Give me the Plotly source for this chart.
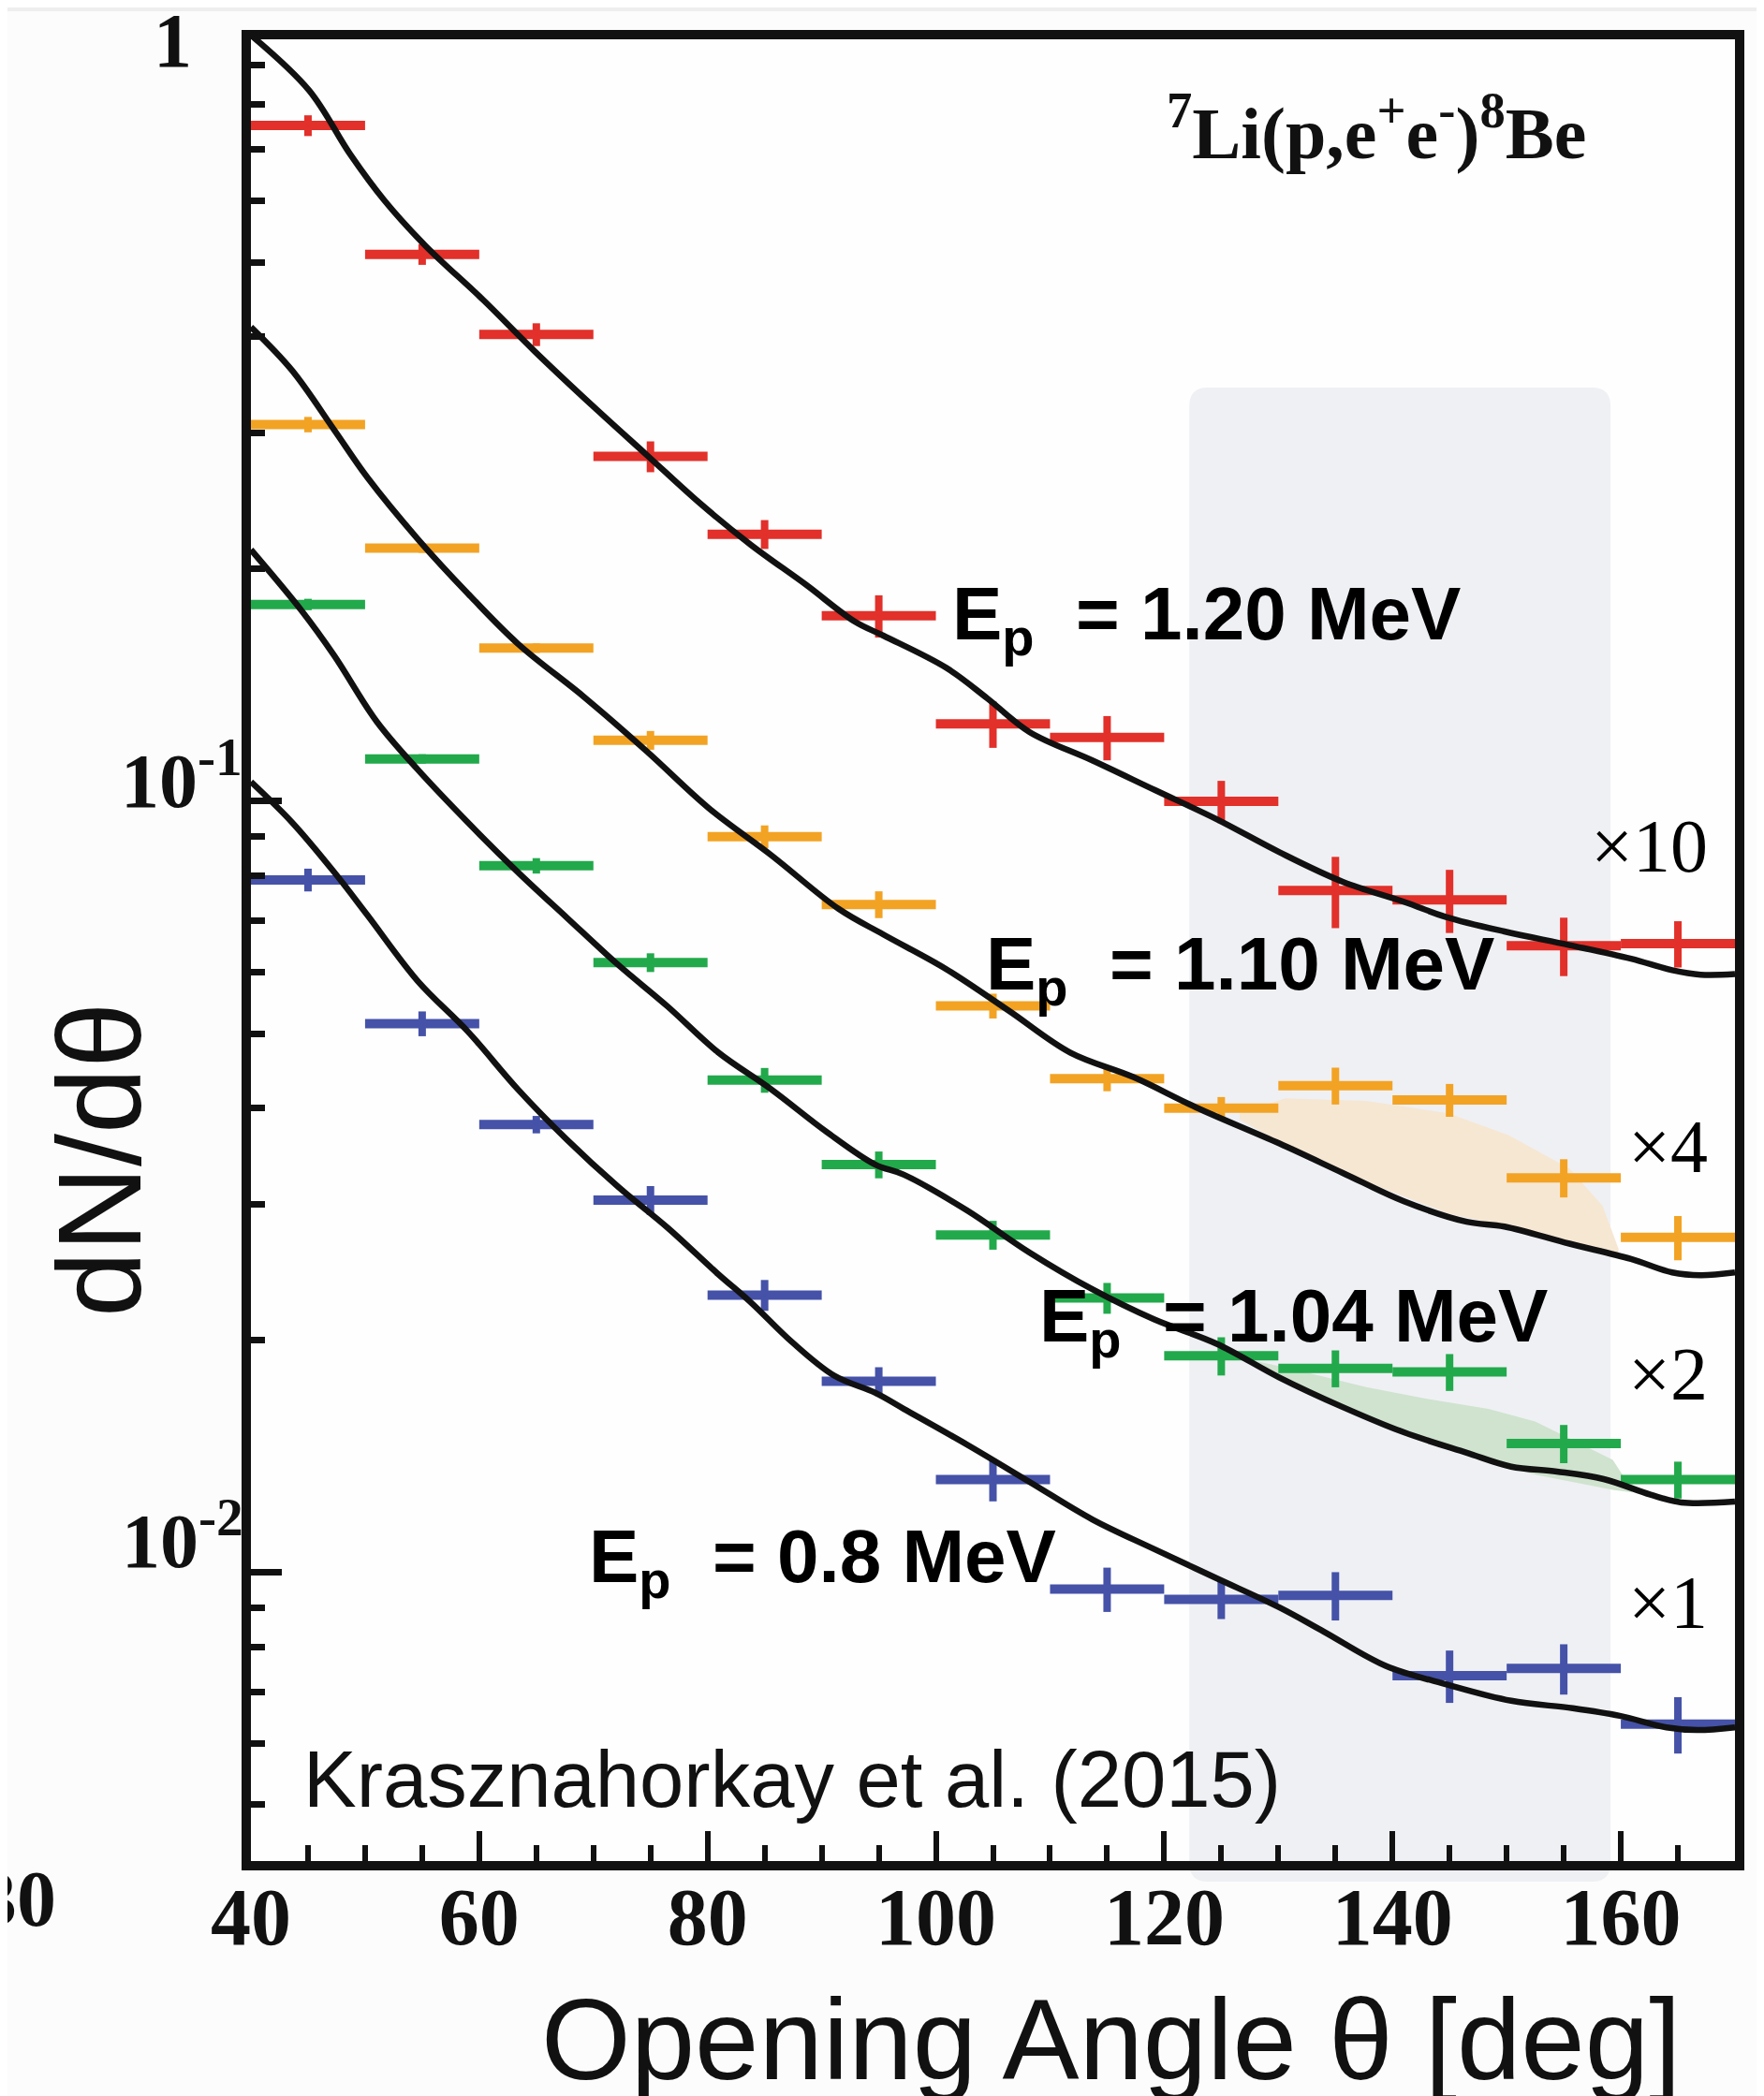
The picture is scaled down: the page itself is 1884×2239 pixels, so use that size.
import plotly.graph_objects as go

# ---------------- data ----------------
theta_bins = [45, 55, 65, 75, 85, 95, 105, 115, 125, 135, 145, 155, 165]
bin_half_width = 5.0

# measured dN/dtheta (already multiplied by the scale factor shown on the right)
ep120_x10 = [0.752, 0.512, 0.403, 0.280, 0.222, 0.174, 0.126, 0.121, 0.100, 0.0766, 0.0745, 0.0650, 0.0654]
ep110_x4 = [0.308, 0.213, 0.158, 0.120, 0.0900, 0.0735, 0.0543, 0.0437, 0.0400, 0.0428, 0.0410, 0.0325, 0.0272]
ep104_x2 = [0.180, 0.1135, 0.0825, 0.0618, 0.0435, 0.0338, 0.0274, 0.0227, 0.0191, 0.0184, 0.0182, 0.0147, 0.0132]
ep080_x1 = [0.0791, 0.0515, 0.0381, 0.0304, 0.0229, 0.0177, 0.0132, 0.00952, 0.00923, 0.00934, 0.00735, 0.00751, 0.00636]

# relative errors (percent)
ep120_err_pct = [3.1, 3.1, 3.4, 4.6, 4.3, 6.3, 6.9, 6.6, 6.3, 10.6, 9.4, 8.7, 6.9]
ep110_err_pct = [2.3, 1.4, 1.4, 2.8, 3.4, 4.0, 3.7, 3.7, 3.4, 5.5, 4.9, 5.7, 6.6]
ep104_err_pct = [1.7, 1.4, 2.3, 2.8, 3.7, 4.0, 4.3, 4.6, 5.7, 5.5, 5.5, 5.7, 5.5]
ep080_err_pct = [3.4, 3.7, 2.6, 4.3, 4.6, 4.3, 6.3, 6.6, 5.7, 7.2, 7.8, 7.5, 8.4]

# simulated curves
sim120_theta = [40.0, 45.1, 48.7, 51.7, 55.3, 60.4, 64.8, 69.9, 74.7, 79.4, 83.8, 88.6, 92.9, 95.4,
                100.9, 104.5, 108.2, 113.7, 119.2, 124.6, 130.1, 135.6, 141.1, 144.7, 149.8, 155.5,
                160.9, 164.5, 167.0, 170.0]
sim120_val = [0.985, 0.835, 0.690, 0.601, 0.525, 0.446, 0.384, 0.326, 0.281, 0.243, 0.215, 0.191, 0.171, 0.164,
              0.149, 0.136, 0.123, 0.113, 0.1034, 0.0948, 0.0859, 0.0787, 0.0740, 0.0708, 0.0678, 0.0651,
              0.0625, 0.0604, 0.0596, 0.0597]

sim110_theta = [40.0, 43.6, 47.3, 50.2, 54.6, 59.0, 63.4, 69.2, 74.7, 80.1, 85.6, 91.5, 95.4, 100.9,
                106.4, 111.8, 117.3, 122.8, 130.1, 135.6, 141.0, 146.5, 149.8, 155.5, 160.9, 164.5, 167.0, 170.0]
sim110_val = [0.412, 0.362, 0.303, 0.263, 0.219, 0.186, 0.160, 0.1365, 0.116, 0.098, 0.0851, 0.0725, 0.0672, 0.0606,
              0.0535, 0.0472, 0.0439, 0.0401, 0.0360, 0.0330, 0.0303, 0.0285, 0.0281, 0.0267, 0.0255, 0.0245, 0.0243, 0.0245]

sim104_theta = [40.0, 44.4, 47.3, 51.0, 54.6, 59.0, 63.4, 67.7, 72.1, 76.5, 80.9, 85.6, 90.4, 94.7, 97.2,
                102.7, 108.2, 113.7, 119.1, 124.6, 130.1, 135.6, 141.0, 146.5, 150.4, 154.4, 158.5, 162.6, 165.3, 170.0]
sim104_val = [0.212, 0.177, 0.1545, 0.127, 0.110, 0.0939, 0.0809, 0.0706, 0.0615, 0.0542, 0.0473, 0.0423, 0.0373, 0.0338, 0.0328,
              0.0295, 0.0260, 0.0233, 0.0213, 0.0198, 0.0179, 0.0164, 0.0152, 0.0143, 0.01372, 0.01352, 0.01322, 0.01262, 0.01233, 0.01236]

sim080_theta = [40.0, 43.6, 47.3, 50.2, 54.6, 59.0, 63.4, 67.7, 72.1, 76.5, 80.9, 83.8, 87.4, 91.1, 94.7, 97.2,
                102.7, 108.2, 113.7, 119.1, 124.6, 130.1, 134.0, 139.4, 144.9, 150.4, 155.8, 159.9, 164.0, 166.7, 170.0]
sim080_val = [0.106, 0.0939, 0.0809, 0.0712, 0.0585, 0.0503, 0.0423, 0.0364, 0.0317, 0.0280, 0.0244, 0.0224, 0.0199, 0.0180, 0.0171, 0.0163,
              0.01466, 0.01311, 0.01172, 0.01073, 0.00983, 0.00901, 0.00838, 0.00757, 0.00715, 0.00682, 0.00667, 0.00652, 0.00630, 0.00625, 0.00630]

# excess (anomaly) regions
orange_blob_x = [126.6, 130.6, 137.7, 144.9, 150.2, 155.5, 158.4, 159.8]
orange_blob_top = [0.0394, 0.0412, 0.0409, 0.0394, 0.0369, 0.0334, 0.0299, 0.0263]
orange_blob_bottom = [0.0387, 0.0358, 0.0321, 0.0292, 0.0281, 0.0267, 0.0261, 0.0258]

green_blob_x = [126.6, 131.0, 137.7, 143.0, 148.4, 152.5, 156.0, 159.3, 161.0]
green_blob_top = [0.0190, 0.0184, 0.0174, 0.0168, 0.0163, 0.0157, 0.0148, 0.0140, 0.0128]
green_blob_bottom = [0.0190, 0.0176, 0.0160, 0.0149, 0.0139, 0.0134, 0.0131, 0.0128, 0.0127]

highlight_x = [122.2, 159.1]

x_tick_vals = [40, 60, 80, 100, 120, 140, 160]
y_major_ticks = [0.01, 0.1, 1]
y_minor_ticks = [m * d for d in (0.001, 0.01, 0.1) for m in range(2, 10)]

series = [
    ("1.20", ep120_x10, ep120_err_pct, "#e2302a"),
    ("1.10", ep110_x4, ep110_err_pct, "#f2a324"),
    ("1.04", ep104_x2, ep104_err_pct, "#22a94b"),
    ("0.8", ep080_x1, ep080_err_pct, "#4552a8"),
]
curves = [(sim120_theta, sim120_val), (sim110_theta, sim110_val),
          (sim104_theta, sim104_val), (sim080_theta, sim080_val)]

# ---------------- layout geometry ----------------
W, H = 1884, 2239
OFF = 8  # page offset of the figure inside the html body
L, R, T, B = 260, 39, 34, 259
PW, PH = W - L - R, H - T - B


def xp(px):
    """page pixel -> paper x"""
    return (px - OFF - L) / PW


def yp(py):
    """page pixel -> paper y"""
    return (H - B - (py - OFF)) / PH


fig = go.Figure()

# anomaly blobs
fig.add_trace(go.Scatter(
    x=orange_blob_x + orange_blob_x[::-1], y=orange_blob_top + orange_blob_bottom[::-1],
    fill="toself", fillcolor="#f6e7d3", line=dict(width=0), mode="lines",
    hoverinfo="skip", showlegend=False))
fig.add_trace(go.Scatter(
    x=green_blob_x + green_blob_x[::-1], y=green_blob_top + green_blob_bottom[::-1],
    fill="toself", fillcolor="#cfe3cf", line=dict(width=0), mode="lines",
    hoverinfo="skip", showlegend=False))

# data points
for name, vals, errs, col in series:
    fig.add_trace(go.Scatter(
        x=theta_bins, y=vals, mode="markers", name=name,
        marker=dict(size=3, color=col),
        error_x=dict(type="constant", value=bin_half_width, width=0, thickness=10, color=col),
        error_y=dict(type="data", array=[v * e / 100 for v, e in zip(vals, errs)],
                     width=0, thickness=8, color=col),
        showlegend=False))

# simulation curves
for cx, cy in curves:
    fig.add_trace(go.Scatter(
        x=cx, y=cy, mode="lines", line=dict(color="#111111", width=6.5, shape="spline", smoothing=1.0),
        hoverinfo="skip", showlegend=False))

# shaded highlight rectangle with rounded corners
x0, x1 = highlight_x
y0, y1 = yp(2010), yp(414)
rx, ry = 1.6, 20 / PH
path = (f"M {x0+rx},{y0} L {x1-rx},{y0} Q {x1},{y0} {x1},{y0+ry} L {x1},{y1-ry} Q {x1},{y1} {x1-rx},{y1} "
        f"L {x0+rx},{y1} Q {x0},{y1} {x0},{y1-ry} L {x0},{y0+ry} Q {x0},{y0} {x0+rx},{y0} Z")
shapes = [
    dict(type="path", path=path, xref="x", yref="paper", fillcolor="#eff0f4",
         line=dict(width=0), layer="below"),
    dict(type="rect", xref="paper", yref="paper", x0=-0.5, x1=1.5, y0=yp(12), y1=yp(0),
         fillcolor="#eeeeee", line=dict(width=0), layer="below"),
]

serif_b = dict(family="Liberation Serif", color="#111111", weight="bold")
serif = dict(family="Liberation Serif", color="#000000")
sans_b = dict(family="Liberation Sans", color="#000000", weight="bold")
sans = dict(family="Liberation Sans", color="#111111")

annotations = []


def ann(text, x, y, size, font, xanchor="left", yanchor="middle", angle=0):
    f = dict(font)
    f["size"] = size
    annotations.append(dict(text=text, x=xp(x), y=yp(y), xref="paper", yref="paper",
                            showarrow=False, xanchor=xanchor, yanchor=yanchor,
                            font=f, textangle=angle))


ann("<sup>7</sup>Li(p,e<sup>+</sup>e<sup>-</sup>)<sup>8</sup>Be", 1244, 136, 78, serif_b)
ann("E<sub>p</sub>&nbsp; = 1.20 MeV", 1015, 661, 80, sans_b)
ann("E<sub>p</sub>&nbsp; = 1.10 MeV", 1051, 1035, 80, sans_b)
ann("E<sub>p</sub>&nbsp; = 1.04 MeV", 1108, 1411, 80, sans_b)
ann("E<sub>p</sub>&nbsp; = 0.8 MeV", 627, 1668, 80, sans_b)
ann("×10", 1826, 904, 80, serif, xanchor="right")
ann("×4", 1826, 1225, 80, serif, xanchor="right")
ann("×2", 1826, 1468, 80, serif, xanchor="right")
ann("×1", 1826, 1712, 80, serif, xanchor="right")
ann("Krasznahorkay et al. (2015)", 322, 1900, 85, sans)
ann("Opening Angle θ [deg]", 1186, 2178, 123, sans, xanchor="center")
ann("dN/dθ", 106, 1239, 126, sans, xanchor="center", angle=-90)
# y tick labels
ann("1", 207, 44, 82, serif_b, xanchor="right")
ann("10<sup>-1</sup>", 261, 828, 82, serif_b, xanchor="right")
ann("10<sup>-2</sup>", 262, 1640, 82, serif_b, xanchor="right")
ann("30", 62, 2028, 84, serif_b, xanchor="right")

fig.update_layout(
    width=W, height=H,
    margin=dict(l=L, r=R, t=T, b=B, pad=0),
    paper_bgcolor="#fcfcfc", plot_bgcolor="#fefefe",
    shapes=shapes, annotations=annotations,
    showlegend=False,
)
fig.update_xaxes(
    range=[40, 170], tickvals=x_tick_vals, ticks="inside", ticklen=32, tickwidth=6, tickcolor="#111",
    showline=True, linewidth=10, linecolor="#111", mirror=True, showgrid=False, zeroline=False,
    tickfont=dict(family="Liberation Serif", size=86, color="#111", weight="bold"),
    ticklabelstandoff=-24,
    minor=dict(dtick=5, tick0=40, ticks="inside", ticklen=17, tickwidth=6, tickcolor="#111", showgrid=False),
)
fig.update_yaxes(
    type="log", range=[-2.374, -0.012], tickvals=y_major_ticks, ticks="inside", ticklen=33, tickwidth=7,
    tickcolor="#111", showticklabels=False,
    showline=True, linewidth=10, linecolor="#111", mirror=True, showgrid=False, zeroline=False,
    minor=dict(tickvals=y_minor_ticks, ticks="inside", ticklen=15, tickwidth=7, tickcolor="#111", showgrid=False),
)

fig.write_html("out.html")
